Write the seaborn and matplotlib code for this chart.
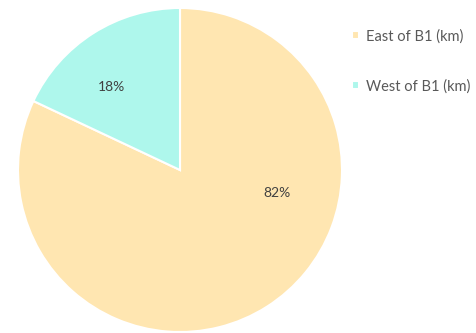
import matplotlib
matplotlib.use("Agg")
import matplotlib.pyplot as plt
import seaborn as sns

# Distance split either side of B1
categories = ["East of B1 (km)", "West of B1 (km)"]
shares = [82, 18]
slice_colors = ["#FFE6B1", "#AEF7EC"]

sns.set_theme(style="white")
plt.rcParams["font.family"] = ["Lato", "DejaVu Sans"]

fig = plt.figure(figsize=(4.77, 3.33), dpi=100)
ax = fig.add_axes([18 / 477, 1 / 333, 324 / 477, 324 / 333])

wedges, texts, autotexts = ax.pie(
    shares,
    colors=slice_colors,
    startangle=90,
    counterclock=False,
    autopct="%d%%",
    pctdistance=0.62,
    wedgeprops=dict(edgecolor="white", linewidth=1.5),
    textprops=dict(color="#404040", fontsize=10),
)
ax.set_aspect("equal")
ax.set_xlim(-1.0, 1.0)
ax.set_ylim(-1.0, 1.0)

# Label placement along each slice
label_pos = [(0.60, -0.14), (-0.42, 0.51)]
for t, (x, y) in zip(autotexts, label_pos):
    t.set_position((x, y))

fig.legend(
    wedges,
    categories,
    loc="upper left",
    bbox_to_anchor=(352 / 477, 1 - 29 / 333),
    frameon=False,
    fontsize=10.5,
    handlelength=0.45,
    handleheight=0.45,
    handletextpad=0.5,
    labelspacing=2.45,
    labelcolor="#595959",
    borderaxespad=0,
    borderpad=0,
)

fig.savefig("out.png", dpi=100)
